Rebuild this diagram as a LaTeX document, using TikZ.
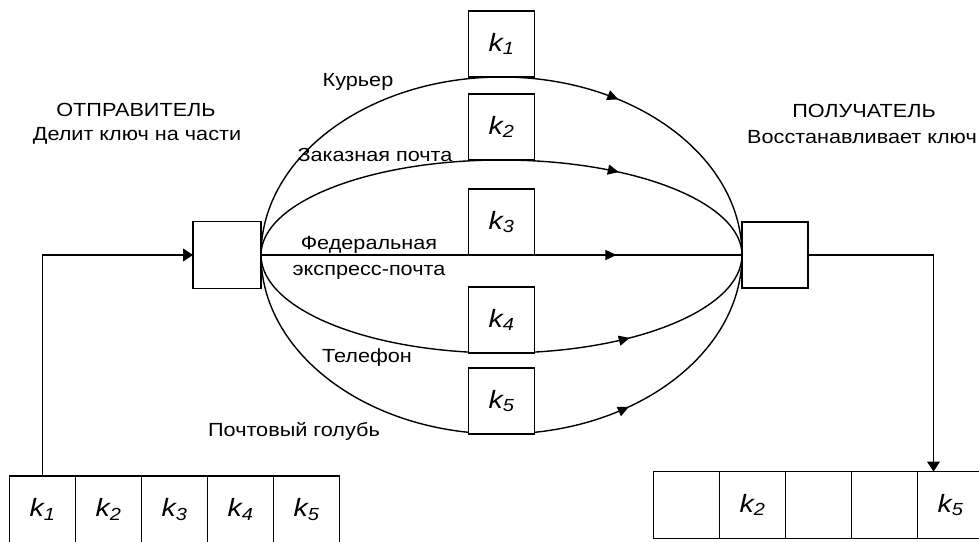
\documentclass[tikz,border=0pt]{standalone}
\usepackage{fontspec}
\setmainfont{Liberation Sans}[FakeStretch=1.14]
\usetikzlibrary{arrows.meta,decorations.markings,calc}
\begin{document}
\begin{tikzpicture}[x=1pt,y=1pt,
  lbl/.style={font=\fontsize{19}{22}\selectfont, inner sep=0pt},
  kfont/.style={font=\fontsize{25}{28}\selectfont\itshape},
  bx/.style={draw, line width=1.9pt, minimum width=66pt, minimum height=66pt, inner sep=0pt, outer sep=0pt},
  kbox/.style={bx, fill=white, kfont},
  cell/.style={draw, line width=1.9pt, minimum width=66pt, minimum height=67pt, inner sep=0pt, outer sep=0pt, kfont},
  chan/.style={line width=1.4pt},
  midarrow/.style={postaction={decorate,decoration={markings,mark=at position #1 with {\arrow{Triangle[length=11pt,width=10pt]}}}}},
  conn/.style={line width=1.2pt,-{Triangle[length=10pt,width=13pt]}}
]
\useasboundingbox (0,0) rectangle (979,541);
\clip (0,0) rectangle (979,541);

% sender and receiver
\node[bx, minimum width=68pt, minimum height=67pt] (snd) at (227,286) {};
\node[bx] (rcv) at (775,286) {};

% channels
\draw[chan,midarrow=0.681] (snd.east) arc[start angle=180,end angle=0,x radius=240.5pt,y radius=178pt];
\draw[chan,midarrow=0.714] (snd.east) arc[start angle=180,end angle=0,x radius=240.5pt,y radius=95pt];
\draw[chan,midarrow=0.739] (snd.east) -- (rcv.west);
\draw[chan,midarrow=0.733] (snd.east) arc[start angle=180,end angle=360,x radius=240.5pt,y radius=98pt];
\draw[chan,midarrow=0.698] (snd.east) arc[start angle=180,end angle=360,x radius=240.5pt,y radius=179pt];

% key part boxes
\node[kbox] (k1) at (501.5,497) {k\textsubscript{1}};
\node[kbox] (k2) at (501.5,414) {k\textsubscript{2}};
\node[kbox] (k3) at (501.5,319) {k\textsubscript{3}};
\node[kbox] (k4) at (501.5,221) {k\textsubscript{4}};
\node[kbox] (k5) at (501.5,140) {k\textsubscript{5}};

% labels
\node[lbl] (t1) at (136,431) {ОТПРАВИТЕЛЬ};
\node[lbl] (t2) at (137,405) {Делит ключ на части};
\node[lbl] (t3) at (864,430) {ПОЛУЧАТЕЛЬ};
\node[lbl, anchor=west] (t4) at (747,404) {Восстанавливает ключ};
\node[lbl] (c1) at (358,459) {Курьер};
\node[lbl] (c2) at (375,386) {Заказная почта};
\node[lbl] (c3a) at (369,296) {Федеральная};
\node[lbl] (c3b) at (369,269) {экспресс-почта};
\node[lbl] (c4) at (367,183) {Телефон};
\node[lbl] (c5) at (294,110) {Почтовый голубь};

% arrays
\foreach \i in {1,...,5}
  \node[cell] (l\i) at ({42.5+66*(\i-1)},31.5) {k\textsubscript{\i}};
\node[cell] (r1) at (686.5,36) {};
\node[cell] (r2) at (752.5,36) {k\textsubscript{2}};
\node[cell] (r3) at (818.5,36) {};
\node[cell] (r4) at (884.5,36) {};
\node[cell] (r5) at (950.5,36) {k\textsubscript{5}};

% connectors
\draw[conn] (l1.north) |- (snd.west);
\coordinate (rin) at ([xshift=16pt]r5.north west);
\draw[conn] (rcv.east) -| (rin);
\end{tikzpicture}
\end{document}
